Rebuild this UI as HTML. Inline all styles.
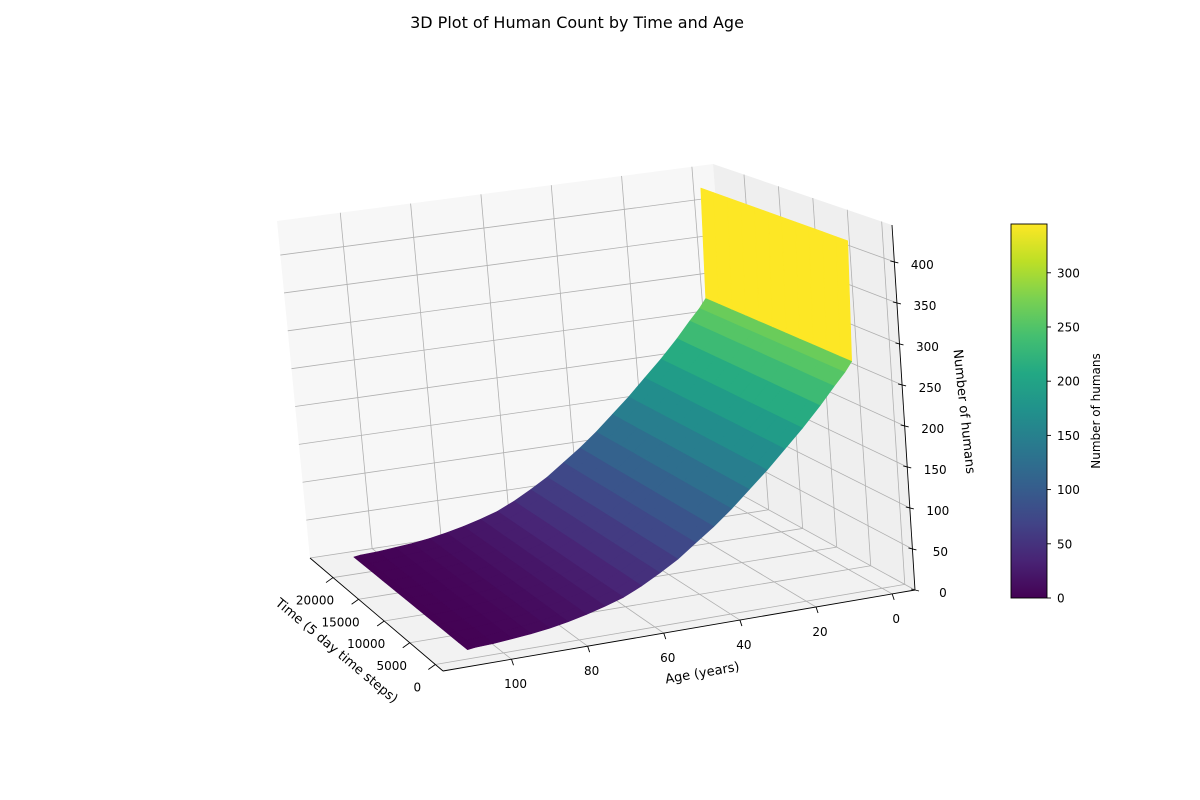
<!DOCTYPE html>
<html><head><meta charset="utf-8"><style>
html,body{margin:0;padding:0;background:#fff;}
svg{display:block;font-family:"DejaVu Sans","Liberation Sans",sans-serif;}
</style></head><body>
<svg id="chart" width="1200" height="800" viewBox="0 0 1200 800" xmlns="http://www.w3.org/2000/svg">
<rect width="1200" height="800" fill="#fff"/>
<text x="577" y="28" font-size="16" text-anchor="middle" fill="#000">3D Plot of Human Count by Time and Age</text>
<g id="panes"></g>
<g id="grid"></g>
<g id="surface"></g>
<g id="axes"></g>
<g id="cbar"></g>
</svg>
<script>
// ---- data ----
const ages = [0,1,3,6,10,15,20,25,30,35,40,45,50,55,60,65,70,75,80,85,90,95,100,105,107];
const counts = [420,272,260,245,224,200,178,156,136,116,98,82,66,53,41,31,24,18,13,9,6,4,2,1,0];
const times = [1800,3500,5500,7500,9500,11500,13500,15500,17500,19500,21500,23400];
const ageTicks = [0,20,40,60,80,100];
const timeTicks = [0,5000,10000,15000,20000];
const zTicks = [0,50,100,150,200,250,300,350,400];
const cbarTicks = [0,50,100,150,200,250,300];

// ---- axis ranges ----
const T0=-1500, T1=24500, A0=-6, A1=118, Z0=0, Z1=445, CMAX=345;
const C = {
  '000':[915,590],'010':[443,671],'100':[738,493],'110':[310,558],
  '001':[892,225],'011':[412,293],'101':[713,164],'111':[277,221]
};
function proj(t,a,z){
  const u=(t-T0)/(T1-T0), v=(a-A0)/(A1-A0), w=(z-Z0)/(Z1-Z0);
  let x=0,y=0;
  for(const k in C){
    const f=(k[0]==='1'?u:1-u)*(k[1]==='1'?v:1-v)*(k[2]==='1'?w:1-w);
    x+=f*C[k][0]; y+=f*C[k][1];
  }
  return [x,y];
}
const NS='http://www.w3.org/2000/svg';
function mk(tag,attrs,parent){const e=document.createElementNS(NS,tag);for(const k in attrs)e.setAttribute(k,attrs[k]);parent.appendChild(e);return e;}
function pts(a){return a.map(p=>p[0].toFixed(1)+','+p[1].toFixed(1)).join(' ');}
const stops=[[68,1,84],[72,36,117],[65,68,135],[53,95,141],[42,120,142],[33,145,140],[34,168,132],[68,191,112],[122,209,81],[189,223,38],[253,231,37]];
function viridis(f){f=Math.max(0,Math.min(1,f));const s=f*10,i=Math.min(9,Math.floor(s)),r=s-i;const a=stops[i],b=stops[i+1];
 return 'rgb('+a.map((c,k)=>Math.round(c+(b[k]-c)*r)).join(',')+')';}

// ---- panes ----
const panes=document.getElementById('panes');
let p;
p=mk('polygon',{points:pts([proj(T1,A0,Z0),proj(T1,A1,Z0),proj(T1,A1,Z1),proj(T1,A0,Z1)]),fill:'#f7f7f7'},panes);

p=mk('polygon',{points:pts([proj(T0,A0,Z0),proj(T1,A0,Z0),proj(T1,A0,Z1),proj(T0,A0,Z1)]),fill:'#efefef'},panes);

p=mk('polygon',{points:pts([proj(T0,A0,Z0),proj(T1,A0,Z0),proj(T1,A1,Z0),proj(T0,A1,Z0)]),fill:'#f2f2f2'},panes);


// ---- grid ----
const grid=document.getElementById('grid');
function gl(a,b){const l=mk('line',{x1:a[0],y1:a[1],x2:b[0],y2:b[1],stroke:'#b0b0b0','stroke-width':0.8},grid);
 }
ageTicks.forEach(a=>{gl(proj(T1,a,Z0),proj(T1,a,Z1));gl(proj(T0,a,Z0),proj(T1,a,Z0));});
timeTicks.forEach(t=>{gl(proj(t,A0,Z0),proj(t,A0,Z1));gl(proj(t,A0,Z0),proj(t,A1,Z0));});
zTicks.forEach(z=>{gl(proj(T1,A0,z),proj(T1,A1,z));gl(proj(T0,A0,z),proj(T1,A0,z));});

// ---- surface ----
const surf=document.getElementById('surface');
const faces=[];
for(let i=0;i<times.length-1;i++)for(let j=0;j<ages.length-1;j++){
  const ta=times[i],tb=times[i+1],aa=ages[j],ab=ages[j+1];
  const za=counts[j],zb=counts[j+1];
  const u=((ta+tb)/2-T0)/(T1-T0), v=((aa+ab)/2-A0)/(A1-A0);
  faces.push({d:u*1.0+(1-v)*1.2,pts:[proj(ta,aa,za),proj(tb,aa,za),proj(tb,ab,zb),proj(ta,ab,zb)],z:(za+zb)/2});
}
faces.sort((a,b)=>b.d-a.d);
faces.forEach(f=>{const c=viridis(f.z/CMAX);
  const e=mk('polygon',{points:pts(f.pts),fill:c,stroke:c,'stroke-width':0.6,'stroke-linejoin':'round'},surf);
  });

// ---- axes ----
const ax=document.getElementById('axes');
function line(a,b,name){const l=mk('line',{x1:a[0],y1:a[1],x2:b[0],y2:b[1],stroke:'#000','stroke-width':0.9},ax);
 }
function txt(x,y,s,name,anchor,rot,size){const e=mk('text',{x:x,y:y,'font-size':size||12,'text-anchor':anchor||'middle',fill:'#000'},ax);
 if(rot)e.setAttribute('transform','rotate('+rot+' '+x+' '+y+')');e.textContent=s;
 }
line(proj(T0,A0,Z0),proj(T0,A1,Z0),'age-axis-line');
line(proj(T0,A1,Z0),proj(T1,A1,Z0),'time-axis-line');
line(proj(T0,A0,Z0),proj(T0,A0,Z1),'z-axis-line');
ageTicks.forEach(a=>{const p0=proj(T0,a,Z0);line(p0,[p0[0]+2,p0[1]+6],'age-tick');txt(p0[0]+4,p0[1]+29,String(a),'age-tick-label');});
timeTicks.forEach(t=>{const p0=proj(t,A1,Z0);line(p0,[p0[0]-7,p0[1]+5],'time-tick');txt(p0[0]-18,p0[1]+27,String(t),'time-tick-label','middle');});
zTicks.forEach(z=>{const p0=proj(T0,A0,z);line([p0[0]-4,p0[1]-1],[p0[0]+4,p0[1]+1],'z-tick');txt(p0[0]+28,p0[1]+7,String(z),'z-tick-label');});
txt(703,677,'Age (years)','age-axis-title','middle',-10,13);
txt(334,654,'Time (5 day time steps)','time-axis-title','middle',40,13);
txt(960,412,'Number of humans','z-axis-title','middle',84,13);

// ---- colorbar ----
const cb=document.getElementById('cbar');
const defs=mk('defs',{},cb);
const lg=mk('linearGradient',{id:'vir',x1:0,y1:1,x2:0,y2:0},defs);
stops.forEach((s,i)=>mk('stop',{offset:(i/10),'stop-color':'rgb('+s.join(',')+')'},lg));
const cbx=1011,cbw=36,cby0=598,cby1=224;
let r=mk('rect',{x:cbx,y:cby1,width:cbw,height:cby0-cby1,fill:'url(#vir)',stroke:'#000','stroke-width':0.9},cb);

cbarTicks.forEach(v=>{const y=cby0-(v/CMAX)*(cby0-cby1);
 const l=mk('line',{x1:cbx+cbw,y1:y,x2:cbx+cbw+4,y2:y,stroke:'#000','stroke-width':0.9},cb);
 
 const t=mk('text',{x:cbx+cbw+10,y:y+4.5,'font-size':12,fill:'#000'},cb);t.textContent=String(v);
 });
const ct=mk('text',{x:1100,y:411,'font-size':12,'text-anchor':'middle',fill:'#000',transform:'rotate(-90 1100 411)'},cb);
ct.textContent='Number of humans';

</script>
</body></html>
